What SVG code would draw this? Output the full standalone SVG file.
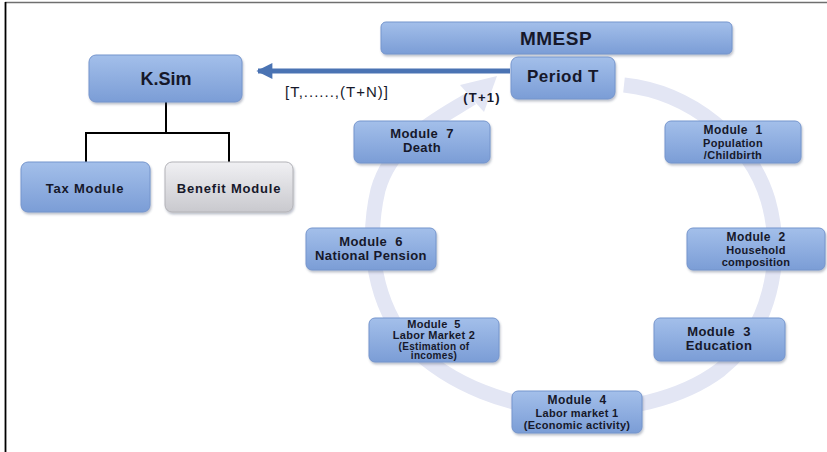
<svg xmlns="http://www.w3.org/2000/svg" width="827" height="452" viewBox="0 0 827 452">
<defs>
<linearGradient id="gBlue" x1="0" y1="0" x2="0" y2="1">
<stop offset="0" stop-color="#a3bfea"/>
<stop offset="1" stop-color="#7b9dd6"/>
</linearGradient>
<linearGradient id="gGray" x1="0" y1="0" x2="0" y2="1">
<stop offset="0" stop-color="#f0f0f3"/>
<stop offset="1" stop-color="#c9c9ce"/>
</linearGradient>
<filter id="sh" x="-10%" y="-20%" width="125%" height="150%">
<feDropShadow dx="1" dy="2" stdDeviation="1.3" flood-color="#405070" flood-opacity="0.35"/>
</filter>
<marker id="ah" viewBox="0 0 10 10" refX="9" refY="5" markerWidth="3.4" markerHeight="3.2" orient="auto" markerUnits="strokeWidth">
<path d="M0,0 L10,5 L0,10 z" fill="#4a73b3"/>
</marker>
</defs>
<style>
.box{fill:url(#gBlue);stroke:#7595cd;stroke-width:1;filter:url(#sh)}
.gbox{fill:url(#gGray);stroke:#b3b3b8;stroke-width:1;filter:url(#sh)}
text{font-family:"Liberation Sans",Arial,sans-serif;font-weight:bold;fill:#16182a;text-anchor:middle}
.m{font-size:13px;letter-spacing:0.4px}
.t{font-size:12px;letter-spacing:0.4px}
.s{font-size:11px;letter-spacing:0.3px}
.xs{font-size:10px;letter-spacing:0.3px}
.tree{fill:none;stroke:#000;stroke-width:2}
</style>
<rect x="0" y="0" width="827" height="452" fill="#fff"/>
<line x1="5" y1="2.5" x2="827" y2="2.5" stroke="#6f6f6f" stroke-width="1.5"/>
<line x1="5.5" y1="2" x2="5.5" y2="452" stroke="#000" stroke-width="1.8"/>

<g id="cycle">
<path d="M624,85 C690,92 750,140 768,200 C785,260 770,330 720,370 C680,400 620,412 570,410 C510,408 450,385 410,345 C375,305 365,245 378,190 C392,140 440,118 472,98" fill="none" stroke="#e3e6f4" stroke-width="15"/>
<path d="M497,76 L460,85 L484,112 z" fill="#e3e6f4"/>
</g>

<g id="connectors">
<path class="tree" d="M166,102 V133 M86,133 H229 M86,132 V162 M229,132 V162"/>
<line x1="510" y1="71" x2="258" y2="71" stroke="#4a73b3" stroke-width="5" marker-end="url(#ah)"/>
</g>

<g id="ksim"><rect class="box" x="89" y="55" width="153" height="47" rx="7"/><text x="166" y="85" style="font-size:18px">K.Sim</text></g>
<g id="tax"><rect class="box" x="21" y="162" width="129" height="50" rx="7"/><text x="85" y="193" style="font-size:13px;letter-spacing:0.8px">Tax Module</text></g>
<g id="benefit"><rect class="gbox" x="165" y="162" width="128" height="50" rx="7"/><text x="229" y="193" style="font-size:13px;letter-spacing:0.8px">Benefit Module</text></g>
<g id="mmesp"><rect class="box" x="381" y="22" width="351" height="32" rx="5"/><text x="556" y="45" style="font-size:19px;letter-spacing:0.5px">MMESP</text></g>
<g id="periodT"><rect class="box" x="511" y="57" width="104" height="42" rx="7"/><text x="563" y="82" style="font-size:17px;letter-spacing:0.5px">Period T</text></g>
<g id="label-range"><text x="337" y="97" style="font-size:15px;font-weight:normal;letter-spacing:1px">[T,......,(T+N)]</text></g>
<g id="label-t1"><text x="482" y="102" style="font-size:13px;letter-spacing:1.2px">(T+1)</text></g>

<g id="m7"><rect class="box" x="354" y="121" width="136" height="42" rx="6"/>
<text class="m" x="422" y="138" xml:space="preserve">Module  7</text><text class="m" x="422" y="152">Death</text></g>
<g id="m1"><rect class="box" x="665" y="121" width="136" height="42" rx="6"/>
<text class="t" x="733" y="134" xml:space="preserve">Module  1</text><text class="s" x="733" y="146.5">Population</text><text class="s" x="733" y="159">/Childbirth</text></g>
<g id="m6"><rect class="box" x="306" y="228" width="130" height="42" rx="6"/>
<text class="m" x="371" y="246" xml:space="preserve">Module  6</text><text class="m" x="371" y="260">National Pension</text></g>
<g id="m2"><rect class="box" x="687" y="228" width="138" height="42" rx="6"/>
<text class="t" x="756" y="241" xml:space="preserve">Module  2</text><text class="s" x="756" y="253.5">Household</text><text class="s" x="756" y="266">composition</text></g>
<g id="m5"><rect class="box" x="369" y="318" width="130" height="44" rx="6"/>
<text class="s" x="434" y="328" xml:space="preserve">Module  5</text><text class="s" x="434" y="339">Labor Market 2</text><text class="xs" x="434" y="349.5">(Estimation of</text><text class="xs" x="434" y="359">incomes)</text></g>
<g id="m3"><rect class="box" x="654" y="318" width="131" height="43" rx="6"/>
<text class="m" x="719" y="336" xml:space="preserve">Module  3</text><text class="m" x="719" y="350">Education</text></g>
<g id="m4"><rect class="box" x="512" y="391" width="130" height="42" rx="6"/>
<text class="t" x="577" y="404" xml:space="preserve">Module  4</text><text class="s" x="577" y="416.5">Labor market 1</text><text class="s" x="577" y="429">(Economic activity)</text></g>
</svg>
